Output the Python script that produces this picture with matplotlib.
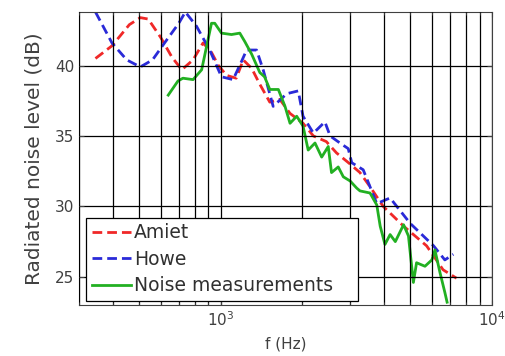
import matplotlib
matplotlib.use('Agg')
import matplotlib.pyplot as plt
import numpy as np

# Amiet model (red dashed)
amiet_f = [345, 397, 460, 505, 540, 600, 660, 718, 790, 860, 920, 980, 1050, 1140,
           1210, 1300, 1390, 1516, 1650, 1800, 2010, 2195, 2450, 2670, 3000, 3260,
           3550, 3970, 4720, 5740, 6600, 7400]
amiet_db = [40.5, 41.4, 42.9, 43.4, 43.3, 42.0, 40.6, 39.7, 40.4, 41.6, 41.0, 40.0,
            39.3, 39.1, 40.4, 39.8, 38.7, 37.4, 37.6, 36.6, 35.9, 35.0, 34.6, 33.8,
            33.0, 32.4, 31.4, 30.0, 28.6, 27.2, 25.5, 24.9]

# Howe model (blue dashed)
howe_f = [345, 397, 450, 505, 560, 620, 700, 740, 813, 910, 1006, 1110, 1193, 1245,
          1355, 1433, 1560, 1750, 1930, 2010, 2195, 2420, 2530, 2750, 2950, 3040,
          3350, 3760, 4210, 4990, 6090, 6700, 7200]
howe_db = [43.8, 41.6, 40.4, 39.9, 40.4, 41.6, 43.0, 43.8, 42.8, 41.1, 39.2, 39.0,
           40.3, 41.1, 41.1, 39.7, 37.1, 38.0, 38.2, 36.4, 35.2, 36.0, 35.0, 34.5,
           34.1, 33.1, 32.6, 30.2, 30.6, 28.8, 27.2, 26.2, 26.6]

# measurements (green)
meas_f = [640, 695, 725, 790, 850, 924, 950, 1006, 1095, 1175, 1226, 1300, 1393, 1450,
          1516, 1630, 1725, 1800, 1905, 2010, 2100, 2225, 2355, 2490, 2560, 2710, 2830,
          3000, 3170, 3260, 3550, 3760, 3870, 4030, 4210, 4400, 4720, 4920, 5130, 5270,
          5660, 6000, 6160, 6430, 6700, 6830]
meas_db = [37.9, 38.9, 39.1, 39.0, 39.7, 43.0, 43.0, 42.3, 42.2, 42.3, 41.7, 40.8, 39.5,
           39.2, 38.3, 38.3, 37.1, 35.9, 36.4, 35.7, 34.0, 34.5, 33.5, 34.25, 32.4, 32.8,
           32.1, 31.8, 31.3, 31.1, 30.95, 30.1, 28.6, 27.3, 28.0, 27.5, 28.7, 27.9, 24.6,
           26.0, 25.75, 26.2, 26.9, 25.3, 23.9, 23.2]

yticks = [25, 30, 35, 40]

fig = plt.figure(figsize=(5.05, 3.56), dpi=100)
ax = fig.add_axes([79 / 505, 1 - 305 / 356, 413 / 505, 293 / 356])

ax.plot(amiet_f, amiet_db, color='#f02828', lw=2.0, dashes=(3.5, 1.8), label='Amiet')
ax.plot(howe_f, howe_db, color='#2a2ad8', lw=2.0, dashes=(3.5, 1.8), label='Howe')
ax.plot(meas_f, meas_db, color='#22b022', lw=2.0, label='Noise measurements')

ax.set_xscale('log')
ax.set_xlim(300, 10000)
ax.set_ylim(23, 43.8)
ax.set_yticks(yticks)

ax.grid(True, which='major', color='black', lw=0.9)
ax.grid(True, which='minor', axis='x', color='black', lw=0.9)
ax.set_axisbelow(False)

gray = '#404040'
ax.tick_params(which='both', direction='in', top=True, right=True, colors=gray,
               labelsize=11, labelcolor=gray)
for s in ax.spines.values():
    s.set_color(gray)

ax.set_xlabel('f (Hz)', fontsize=11, color=gray, labelpad=6)
ax.set_ylabel('Radiated noise level (dB)', fontsize=14.5, color=gray, labelpad=8)

# legend box stretched a bit wider than its text, as in the original
leg = ax.legend(loc='lower left', bbox_to_anchor=(7 / 413, 4 / 293, 272 / 413, 0.3),
                mode='expand', borderaxespad=0,
                fontsize=13.5, handlelength=2.1, handletextpad=0.15, labelspacing=0.4,
                fancybox=False, framealpha=1, edgecolor='black', borderpad=0.3)
leg.get_frame().set_linewidth(0.9)
for t in leg.get_texts():
    t.set_color('#303030')

fig.savefig('out.png', dpi=100)
